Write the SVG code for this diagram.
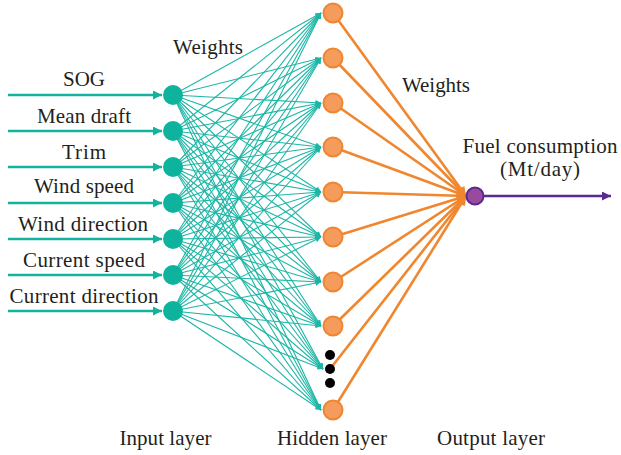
<svg xmlns="http://www.w3.org/2000/svg" width="621" height="455" viewBox="0 0 621 455">
<style>
text{font-family:"Liberation Serif","Times New Roman",serif;font-size:21px;fill:#231F20}
.lbl{text-anchor:middle}
.in{stroke:#12B2A0;stroke-width:2.5;fill:none}
.w1{stroke:#1DB6A6;stroke-width:1.1;fill:none}
.w2{stroke:#F0862E;stroke-width:2.6;fill:none}
.out{stroke:#5A2A8E;stroke-width:2.5;fill:none}
.inode{fill:#0DB39D}
.hnode{fill:#F59B5C;stroke:#EF8632;stroke-width:2}
.dot{fill:#000}
.onode{fill:#9A4A9C;stroke:#5A2A8E;stroke-width:2}
</style>
<defs>
<marker id="ai" viewBox="0 0 10 10" refX="10" refY="5" markerWidth="13" markerHeight="9" markerUnits="userSpaceOnUse" orient="auto"><path d="M0,0 L10,5 L0,10 z" fill="#12B2A0"/></marker>
<marker id="at" viewBox="0 0 10 10" refX="10" refY="5" markerWidth="7" markerHeight="5.5" markerUnits="userSpaceOnUse" orient="auto"><path d="M0,0 L10,5 L0,10 z" fill="#1DB6A6"/></marker>
<marker id="ao" viewBox="0 0 10 10" refX="10" refY="5" markerWidth="11" markerHeight="9" markerUnits="userSpaceOnUse" orient="auto"><path d="M0,0 L10,5 L0,10 z" fill="#F0862E"/></marker>
<marker id="ap" viewBox="0 0 10 10" refX="10" refY="5" markerWidth="13" markerHeight="9" markerUnits="userSpaceOnUse" orient="auto"><path d="M0,0 L10,5 L0,10 z" fill="#5A2A8E"/></marker>
</defs>
<g id="connectors">
<g id="input-arrows">
<line class="in" x1="8" y1="95" x2="162" y2="95" marker-end="url(#ai)"/>
<line class="in" x1="8" y1="131" x2="162" y2="131" marker-end="url(#ai)"/>
<line class="in" x1="8" y1="167" x2="162" y2="167" marker-end="url(#ai)"/>
<line class="in" x1="8" y1="203" x2="162" y2="203" marker-end="url(#ai)"/>
<line class="in" x1="8" y1="239" x2="162" y2="239" marker-end="url(#ai)"/>
<line class="in" x1="8" y1="275" x2="162" y2="275" marker-end="url(#ai)"/>
<line class="in" x1="8" y1="311" x2="162" y2="311" marker-end="url(#ai)"/>
</g>
<g id="input-hidden">
<line class="w1" x1="173" y1="95" x2="321" y2="13" marker-end="url(#at)"/>
<line class="w1" x1="173" y1="95" x2="321" y2="58" marker-end="url(#at)"/>
<line class="w1" x1="173" y1="95" x2="321" y2="103" marker-end="url(#at)"/>
<line class="w1" x1="173" y1="95" x2="321" y2="147" marker-end="url(#at)"/>
<line class="w1" x1="173" y1="95" x2="321" y2="192" marker-end="url(#at)"/>
<line class="w1" x1="173" y1="95" x2="321" y2="237" marker-end="url(#at)"/>
<line class="w1" x1="173" y1="95" x2="321" y2="282" marker-end="url(#at)"/>
<line class="w1" x1="173" y1="95" x2="321" y2="326" marker-end="url(#at)"/>
<line class="w1" x1="173" y1="95" x2="323" y2="369" marker-end="url(#at)"/>
<line class="w1" x1="173" y1="95" x2="321" y2="410" marker-end="url(#at)"/>
<line class="w1" x1="173" y1="131" x2="321" y2="13" marker-end="url(#at)"/>
<line class="w1" x1="173" y1="131" x2="321" y2="58" marker-end="url(#at)"/>
<line class="w1" x1="173" y1="131" x2="321" y2="103" marker-end="url(#at)"/>
<line class="w1" x1="173" y1="131" x2="321" y2="147" marker-end="url(#at)"/>
<line class="w1" x1="173" y1="131" x2="321" y2="192" marker-end="url(#at)"/>
<line class="w1" x1="173" y1="131" x2="321" y2="237" marker-end="url(#at)"/>
<line class="w1" x1="173" y1="131" x2="321" y2="282" marker-end="url(#at)"/>
<line class="w1" x1="173" y1="131" x2="321" y2="326" marker-end="url(#at)"/>
<line class="w1" x1="173" y1="131" x2="323" y2="369" marker-end="url(#at)"/>
<line class="w1" x1="173" y1="131" x2="321" y2="410" marker-end="url(#at)"/>
<line class="w1" x1="173" y1="167" x2="321" y2="13" marker-end="url(#at)"/>
<line class="w1" x1="173" y1="167" x2="321" y2="58" marker-end="url(#at)"/>
<line class="w1" x1="173" y1="167" x2="321" y2="103" marker-end="url(#at)"/>
<line class="w1" x1="173" y1="167" x2="321" y2="147" marker-end="url(#at)"/>
<line class="w1" x1="173" y1="167" x2="321" y2="192" marker-end="url(#at)"/>
<line class="w1" x1="173" y1="167" x2="321" y2="237" marker-end="url(#at)"/>
<line class="w1" x1="173" y1="167" x2="321" y2="282" marker-end="url(#at)"/>
<line class="w1" x1="173" y1="167" x2="321" y2="326" marker-end="url(#at)"/>
<line class="w1" x1="173" y1="167" x2="323" y2="369" marker-end="url(#at)"/>
<line class="w1" x1="173" y1="167" x2="321" y2="410" marker-end="url(#at)"/>
<line class="w1" x1="173" y1="203" x2="321" y2="13" marker-end="url(#at)"/>
<line class="w1" x1="173" y1="203" x2="321" y2="58" marker-end="url(#at)"/>
<line class="w1" x1="173" y1="203" x2="321" y2="103" marker-end="url(#at)"/>
<line class="w1" x1="173" y1="203" x2="321" y2="147" marker-end="url(#at)"/>
<line class="w1" x1="173" y1="203" x2="321" y2="192" marker-end="url(#at)"/>
<line class="w1" x1="173" y1="203" x2="321" y2="237" marker-end="url(#at)"/>
<line class="w1" x1="173" y1="203" x2="321" y2="282" marker-end="url(#at)"/>
<line class="w1" x1="173" y1="203" x2="321" y2="326" marker-end="url(#at)"/>
<line class="w1" x1="173" y1="203" x2="323" y2="369" marker-end="url(#at)"/>
<line class="w1" x1="173" y1="203" x2="321" y2="410" marker-end="url(#at)"/>
<line class="w1" x1="173" y1="239" x2="321" y2="13" marker-end="url(#at)"/>
<line class="w1" x1="173" y1="239" x2="321" y2="58" marker-end="url(#at)"/>
<line class="w1" x1="173" y1="239" x2="321" y2="103" marker-end="url(#at)"/>
<line class="w1" x1="173" y1="239" x2="321" y2="147" marker-end="url(#at)"/>
<line class="w1" x1="173" y1="239" x2="321" y2="192" marker-end="url(#at)"/>
<line class="w1" x1="173" y1="239" x2="321" y2="237" marker-end="url(#at)"/>
<line class="w1" x1="173" y1="239" x2="321" y2="282" marker-end="url(#at)"/>
<line class="w1" x1="173" y1="239" x2="321" y2="326" marker-end="url(#at)"/>
<line class="w1" x1="173" y1="239" x2="323" y2="369" marker-end="url(#at)"/>
<line class="w1" x1="173" y1="239" x2="321" y2="410" marker-end="url(#at)"/>
<line class="w1" x1="173" y1="275" x2="321" y2="13" marker-end="url(#at)"/>
<line class="w1" x1="173" y1="275" x2="321" y2="58" marker-end="url(#at)"/>
<line class="w1" x1="173" y1="275" x2="321" y2="103" marker-end="url(#at)"/>
<line class="w1" x1="173" y1="275" x2="321" y2="147" marker-end="url(#at)"/>
<line class="w1" x1="173" y1="275" x2="321" y2="192" marker-end="url(#at)"/>
<line class="w1" x1="173" y1="275" x2="321" y2="237" marker-end="url(#at)"/>
<line class="w1" x1="173" y1="275" x2="321" y2="282" marker-end="url(#at)"/>
<line class="w1" x1="173" y1="275" x2="321" y2="326" marker-end="url(#at)"/>
<line class="w1" x1="173" y1="275" x2="323" y2="369" marker-end="url(#at)"/>
<line class="w1" x1="173" y1="275" x2="321" y2="410" marker-end="url(#at)"/>
<line class="w1" x1="173" y1="311" x2="321" y2="13" marker-end="url(#at)"/>
<line class="w1" x1="173" y1="311" x2="321" y2="58" marker-end="url(#at)"/>
<line class="w1" x1="173" y1="311" x2="321" y2="103" marker-end="url(#at)"/>
<line class="w1" x1="173" y1="311" x2="321" y2="147" marker-end="url(#at)"/>
<line class="w1" x1="173" y1="311" x2="321" y2="192" marker-end="url(#at)"/>
<line class="w1" x1="173" y1="311" x2="321" y2="237" marker-end="url(#at)"/>
<line class="w1" x1="173" y1="311" x2="321" y2="282" marker-end="url(#at)"/>
<line class="w1" x1="173" y1="311" x2="321" y2="326" marker-end="url(#at)"/>
<line class="w1" x1="173" y1="311" x2="323" y2="369" marker-end="url(#at)"/>
<line class="w1" x1="173" y1="311" x2="321" y2="410" marker-end="url(#at)"/>
</g>
<g id="hidden-output">
<line class="w2" x1="333" y1="13" x2="466" y2="196" marker-end="url(#ao)"/>
<line class="w2" x1="333" y1="58" x2="466" y2="196" marker-end="url(#ao)"/>
<line class="w2" x1="333" y1="103" x2="466" y2="196" marker-end="url(#ao)"/>
<line class="w2" x1="333" y1="147" x2="466" y2="196" marker-end="url(#ao)"/>
<line class="w2" x1="333" y1="192" x2="466" y2="196" marker-end="url(#ao)"/>
<line class="w2" x1="333" y1="237" x2="466" y2="196" marker-end="url(#ao)"/>
<line class="w2" x1="333" y1="282" x2="466" y2="196" marker-end="url(#ao)"/>
<line class="w2" x1="333" y1="326" x2="466" y2="196" marker-end="url(#ao)"/>
<line class="w2" x1="330" y1="369" x2="466" y2="196" marker-end="url(#ao)"/>
<line class="w2" x1="333" y1="410" x2="466" y2="196" marker-end="url(#ao)"/>
</g>
<line id="output-arrow" class="out" x1="484" y1="196" x2="611" y2="196" marker-end="url(#ap)"/>
</g>
<g id="input-nodes">
<g id="in-sog"><circle class="inode" cx="173" cy="95" r="10"/><text class="lbl" x="84" y="86" textLength="42">SOG</text></g>
<g id="in-draft"><circle class="inode" cx="173" cy="131" r="10"/><text class="lbl" x="84" y="123" textLength="94">Mean draft</text></g>
<g id="in-trim"><circle class="inode" cx="173" cy="167" r="10"/><text class="lbl" x="84" y="159" textLength="44">Trim</text></g>
<g id="in-wspeed"><circle class="inode" cx="173" cy="203" r="10"/><text class="lbl" x="84" y="193" textLength="100">Wind speed</text></g>
<g id="in-wdir"><circle class="inode" cx="173" cy="239" r="10"/><text class="lbl" x="83" y="231" textLength="130">Wind direction</text></g>
<g id="in-cspeed"><circle class="inode" cx="173" cy="275" r="10"/><text class="lbl" x="84" y="267" textLength="122">Current speed</text></g>
<g id="in-cdir"><circle class="inode" cx="173" cy="311" r="10"/><text class="lbl" x="84" y="303" textLength="149">Current direction</text></g>
</g>
<g id="hidden-nodes">
<g id="h1"><circle class="hnode" cx="333" cy="13" r="9.5"/></g>
<g id="h2"><circle class="hnode" cx="333" cy="58" r="9.5"/></g>
<g id="h3"><circle class="hnode" cx="333" cy="103" r="9.5"/></g>
<g id="h4"><circle class="hnode" cx="333" cy="147" r="9.5"/></g>
<g id="h5"><circle class="hnode" cx="333" cy="192" r="9.5"/></g>
<g id="h6"><circle class="hnode" cx="333" cy="237" r="9.5"/></g>
<g id="h7"><circle class="hnode" cx="333" cy="282" r="9.5"/></g>
<g id="h8"><circle class="hnode" cx="333" cy="326" r="9.5"/></g>
<g id="h-dots"><circle class="dot" cx="330" cy="355" r="5"/><circle class="dot" cx="330" cy="369" r="5"/><circle class="dot" cx="330" cy="383" r="5"/></g>
<g id="hn"><circle class="hnode" cx="333" cy="410" r="9.5"/></g>
</g>
<g id="output-node">
<circle class="onode" cx="475" cy="196" r="8.5"/>
<text class="lbl" x="540" y="153" textLength="155">Fuel consumption</text>
<text class="lbl" x="540" y="176" textLength="80">(Mt/day)</text>
</g>
<g id="labels">
<text x="173" y="54" textLength="70">Weights</text>
<text x="402" y="92" textLength="68">Weights</text>
<text class="lbl" x="165.5" y="445" textLength="92">Input layer</text>
<text class="lbl" x="332" y="445" textLength="110">Hidden layer</text>
<text class="lbl" x="491" y="445" textLength="108">Output layer</text>
</g>
</svg>
